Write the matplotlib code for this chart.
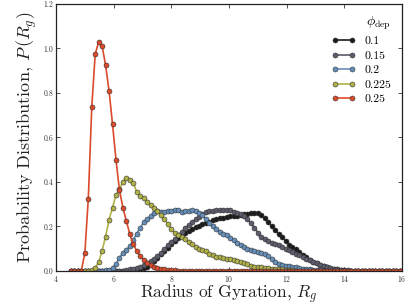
import matplotlib
matplotlib.use("Agg")
import matplotlib.pyplot as plt

plt.rcParams['font.family'] = ['cmr10', 'DejaVu Serif']
plt.rcParams['mathtext.fontset'] = 'cm'
plt.rcParams['axes.unicode_minus'] = False
plt.rcParams['axes.formatter.use_mathtext'] = True

# Bin centres of the radius of gyration histogram
rg = [4.52, 4.64, 4.76, 4.88, 5.00, 5.12, 5.24, 5.36, 5.48, 5.60,
      5.72, 5.84, 5.96, 6.08, 6.20, 6.32, 6.44, 6.56, 6.68, 6.80,
      6.92, 7.04, 7.16, 7.28, 7.40, 7.52, 7.64, 7.76, 7.88, 8.00,
      8.12, 8.24, 8.36, 8.48, 8.60, 8.72, 8.84, 8.96, 9.08, 9.20,
      9.32, 9.44, 9.56, 9.68, 9.80, 9.92, 10.04, 10.16, 10.28, 10.40,
      10.52, 10.64, 10.76, 10.88, 11.00, 11.12, 11.24, 11.36, 11.48, 11.60,
      11.72, 11.84, 11.96, 12.08, 12.20, 12.32, 12.44, 12.56, 12.68, 12.80,
      12.92, 13.04, 13.16, 13.28, 13.40, 13.52, 13.64, 13.76, 13.88, 14.00,
      14.12, 14.24, 14.36, 14.48, 14.60, 14.72, 14.84, 14.96, 15.08, 15.20,
      15.32, 15.44, 15.56, 15.68, 15.80, 15.92]

p_010 = [0.0, 0.0, 0.0, 0.0, 0.0, 0.0, 0.0, 0.0, 0.0, 0.0,
         0.0, 0.0, 0.0, 0.0, 0.0, 0.0, 0.001, 0.001, 0.002, 0.004,
         0.007, 0.013, 0.020, 0.031, 0.044, 0.060, 0.076, 0.090, 0.105, 0.122,
         0.136, 0.150, 0.162, 0.172, 0.180, 0.188, 0.196, 0.203, 0.209, 0.215,
         0.221, 0.228, 0.232, 0.236, 0.240, 0.243, 0.245, 0.246, 0.248, 0.251,
         0.255, 0.258, 0.261, 0.262, 0.260, 0.250, 0.237, 0.221, 0.200, 0.183,
         0.167, 0.151, 0.136, 0.119, 0.108, 0.097, 0.085, 0.074, 0.061, 0.050,
         0.041, 0.034, 0.028, 0.023, 0.018, 0.014, 0.010, 0.007, 0.005, 0.003,
         0.002, 0.001, 0.001, 0.001, 0.0, 0.0, 0.0, 0.0, 0.0, 0.0,
         0.0, 0.0, 0.0, 0.0, 0.0, 0.0]

p_015 = [0.0, 0.0, 0.0, 0.0, 0.0, 0.0, 0.0, 0.0, 0.0, 0.0,
         0.0, 0.0, 0.0, 0.001, 0.002, 0.002, 0.004, 0.007, 0.009, 0.012,
         0.018, 0.027, 0.035, 0.044, 0.055, 0.068, 0.083, 0.099, 0.115, 0.130,
         0.144, 0.160, 0.176, 0.192, 0.207, 0.220, 0.232, 0.244, 0.255, 0.263,
         0.268, 0.271, 0.273, 0.275, 0.276, 0.275, 0.272, 0.264, 0.260, 0.255,
         0.245, 0.232, 0.215, 0.195, 0.172, 0.155, 0.143, 0.135, 0.128, 0.122,
         0.117, 0.109, 0.100, 0.093, 0.085, 0.078, 0.070, 0.063, 0.056, 0.049,
         0.041, 0.034, 0.029, 0.024, 0.019, 0.015, 0.011, 0.008, 0.005, 0.004,
         0.003, 0.002, 0.001, 0.001, 0.001, 0.0, 0.0, 0.0, 0.0, 0.0,
         0.0, 0.0, 0.0, 0.0, 0.0, 0.0]

p_020 = [0.0, 0.0, 0.0, 0.0, 0.0, 0.0, 0.0, 0.0, 0.001, 0.002,
         0.003, 0.005, 0.015, 0.032, 0.060, 0.082, 0.096, 0.112, 0.140, 0.168,
         0.195, 0.218, 0.232, 0.247, 0.262, 0.270, 0.267, 0.265, 0.268, 0.270,
         0.272, 0.276, 0.266, 0.268, 0.270, 0.272, 0.270, 0.262, 0.250, 0.232,
         0.215, 0.202, 0.190, 0.177, 0.168, 0.161, 0.150, 0.138, 0.126, 0.115,
         0.106, 0.099, 0.094, 0.090, 0.085, 0.080, 0.075, 0.068, 0.055, 0.042,
         0.030, 0.025, 0.023, 0.021, 0.019, 0.016, 0.012, 0.010, 0.008, 0.007,
         0.005, 0.004, 0.003, 0.002, 0.001, 0.001, 0.001, 0.0, 0.0, 0.0,
         0.0, 0.0, 0.0, 0.0, 0.0, 0.0, 0.0, 0.0, 0.0, 0.0,
         0.0, 0.0, 0.0, 0.0, 0.0, 0.0]

p_0225 = [0.0, 0.0, 0.0, 0.0, 0.0, 0.002, 0.005, 0.015, 0.040, 0.092,
          0.155, 0.230, 0.285, 0.342, 0.368, 0.400, 0.418, 0.408, 0.395, 0.355,
          0.338, 0.330, 0.312, 0.298, 0.283, 0.268, 0.250, 0.232, 0.212, 0.190,
          0.170, 0.160, 0.155, 0.145, 0.132, 0.122, 0.110, 0.100, 0.095, 0.088,
          0.078, 0.070, 0.065, 0.062, 0.058, 0.055, 0.052, 0.050, 0.046, 0.042,
          0.035, 0.030, 0.024, 0.020, 0.018, 0.016, 0.015, 0.013, 0.011, 0.010,
          0.008, 0.007, 0.005, 0.004, 0.003, 0.002, 0.002, 0.001, 0.001, 0.001,
          0.0, 0.0, 0.0, 0.0, 0.0, 0.0, 0.0, 0.0, 0.0, 0.0,
          0.0, 0.0, 0.0, 0.0, 0.0, 0.0, 0.0, 0.0, 0.0, 0.0,
          0.0, 0.0, 0.0, 0.0, 0.0, 0.0]

p_025 = [0.0, 0.0, 0.0, 0.002, 0.080, 0.325, 0.735, 0.975, 1.030, 1.010,
         0.925, 0.810, 0.660, 0.500, 0.365, 0.285, 0.225, 0.165, 0.120, 0.090,
         0.068, 0.050, 0.037, 0.027, 0.020, 0.014, 0.010, 0.007, 0.005, 0.004,
         0.003, 0.002, 0.002, 0.001, 0.001, 0.001, 0.0, 0.0, 0.0, 0.0,
         0.0, 0.0, 0.0, 0.0, 0.0, 0.0, 0.0, 0.0, 0.0, 0.0,
         0.0, 0.0, 0.0, 0.0, 0.0, 0.0, 0.0, 0.0, 0.0, 0.0,
         0.0, 0.0, 0.0, 0.0, 0.0, 0.0, 0.0, 0.0, 0.0, 0.0,
         0.0, 0.0, 0.0, 0.0, 0.0, 0.0, 0.0, 0.0, 0.0, 0.0,
         0.0, 0.0, 0.0, 0.0, 0.0, 0.0, 0.0, 0.0, 0.0, 0.0,
         0.0, 0.0, 0.0, 0.0, 0.0, 0.0]

labels = ['0.1', '0.15', '0.2', '0.225', '0.25']
series = [p_010, p_015, p_020, p_0225, p_025]
colors = ['#1b1b1b', '#5c5c6c', '#6690bb', '#b0b248', '#db4a2a']

fig = plt.figure(figsize=(4.07, 3.05), dpi=100)
ax = fig.add_axes([0.1376, 0.1115, 0.8501, 0.8755])

for ys, lab, c in zip(series, labels, colors):
    ax.plot(rg, ys, '-o', color=c, lw=1.2, markersize=3.6,
            markerfacecolor=c, markeredgecolor='#333333', markeredgewidth=0.4,
            label=lab)

ax.set_xlim(4, 16)
ax.set_ylim(0, 1.2)
ax.set_xticks([4, 6, 8, 10, 12, 14, 16])
ax.set_yticks([0.0, 0.2, 0.4, 0.6, 0.8, 1.0, 1.2])
ax.set_yticklabels(['0.0', '0.2', '0.4', '0.6', '0.8', '1.0', '1.2'])
ax.tick_params(direction='in', top=True, right=True, labelsize=5.5,
               length=3, width=0.6, pad=2, colors='#333333', labelcolor='#333333')
for s in ax.spines.values():
    s.set_linewidth(0.9)
    s.set_color('#222222')

ax.set_xlabel('Radius of Gyration, $R_g$', fontsize=12.5, labelpad=-1, color='#222222')
ax.set_ylabel('Probability Distribution, $P\\,(R_g)$', fontsize=13, labelpad=3,
              color='#222222')

leg = ax.legend(title='$\\phi_{\\rm dep}$', loc='upper right', frameon=False,
                fontsize=8.5, title_fontsize=10, numpoints=2, handlelength=2.0,
                handletextpad=0.8, labelspacing=0.36, borderaxespad=0.5)
leg._legend_box.align = 'right'

fig.savefig('out.png', dpi=100)
